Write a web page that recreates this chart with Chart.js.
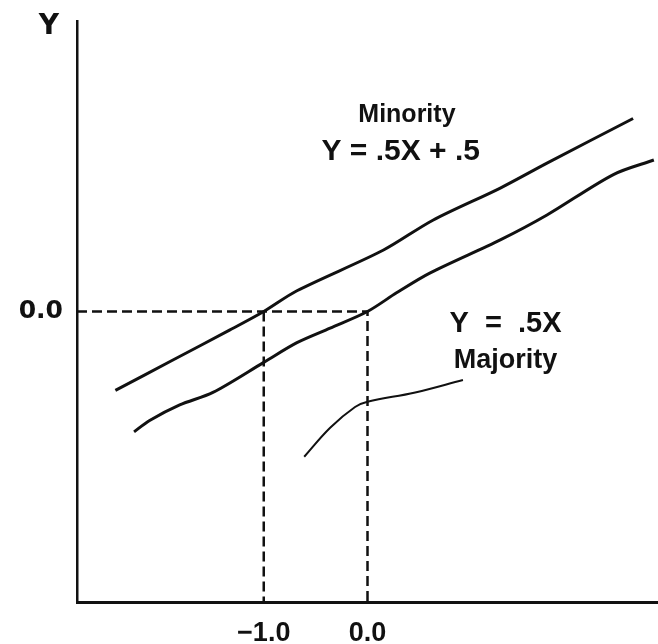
<!DOCTYPE html>
<html>
<head>
<meta charset="utf-8">
<script src="https://cdn.jsdelivr.net/npm/chart.js@4.4.0/dist/chart.umd.min.js"></script>
<style>
  html, body { margin: 0; padding: 0; background: #fff; }
  #wrap { width: 658px; height: 644px; position: relative; }
</style>
</head>
<body>
<div id="wrap"><canvas id="lines"></canvas></div>
<script>
// hand drawn lines (X, Y in data units)
const minorityX = [-2.43, -1.88, -1.33, -1.0, -0.68, 0.15, 0.63, 1.28, 1.73, 2.56];
const minorityY = [-0.76, -0.47, -0.18, 0.0, 0.20, 0.59, 0.88, 1.19, 1.43, 1.86];
const majorityX = [-2.25, -2.10, -1.81, -1.49, -1.0, -0.68, -0.36, 0.0, 0.28, 0.60, 1.28, 1.73, 2.37, 2.76];
const majorityY = [-1.16, -1.05, -0.90, -0.78, -0.49, -0.30, -0.16, 0.0, 0.18, 0.37, 0.69, 0.93, 1.32, 1.46];
const pointerX = [-0.61, -0.36, -0.12, 0.0, 0.46, 0.92];
const pointerY = [-1.40, -1.12, -0.92, -0.87, -0.78, -0.66];

const axisMin = -2.8, axisMax = 2.8;
const xTickValues = [-1, 0];
const xTickLabels = ['\u22121.0', '0.0'];
const yTickValues = [0];
const yTickLabels = ['0.0'];

// text notes: [text, x, y, size, align]
const notes = [
  ['Minority', 0.38, 1.83, 25, 'center'],
  ['Y = .5X + .5', 0.32, 1.46, 30, 'center'],
  ['Y  =  .5X', 0.79, -0.20, 29, 'left'],
  ['Majority', 1.33, -0.54, 27, 'center']
];

const pts = (xs, ys) => xs.map((x, i) => ({ x: x, y: ys[i] }));

const noteText = {
  id: 'noteText',
  afterDatasetsDraw(chart) {
    const ctx = chart.ctx;
    const sx = chart.scales.x, sy = chart.scales.y;
    ctx.save();
    ctx.fillStyle = '#111';
    ctx.textBaseline = 'alphabetic';
    notes.forEach(n => {
      ctx.font = 'bold ' + n[3] + 'px "Liberation Sans"';
      ctx.textAlign = n[4];
      ctx.fillText(n[0], sx.getPixelForValue(n[1]), sy.getPixelForValue(n[2]));
    });
    // axis name at the top of the Y axis
    ctx.font = 'bold 28px "DejaVu Sans"';
    ctx.textAlign = 'center';
    ctx.fillText('Y', sx.left - 28, sy.top + 13);
    ctx.restore();
  }
};

const dash = [10, 5];

new Chart(document.getElementById('lines'), {
  type: 'scatter',
  data: {
    datasets: [
      { data: pts(minorityX, minorityY), showLine: true, borderColor: '#111', borderWidth: 3, tension: 0.3, pointRadius: 0 },
      { data: pts(majorityX, majorityY), showLine: true, borderColor: '#111', borderWidth: 3, tension: 0.3, pointRadius: 0 },
      { data: pts(pointerX, pointerY), showLine: true, borderColor: '#111', borderWidth: 2, tension: 0.4, pointRadius: 0 },
      // dashed guides from the axes to the two crossing points
      { data: [{ x: axisMin, y: 0 }, { x: 0, y: 0 }, { x: 0, y: axisMin }], showLine: true, borderColor: '#111', borderWidth: 2.5, borderDash: dash, pointRadius: 0 },
      { data: [{ x: -1, y: 0 }, { x: -1, y: axisMin }], showLine: true, borderColor: '#111', borderWidth: 2.5, borderDash: dash, pointRadius: 0 }
    ]
  },
  options: {
    responsive: true,
    maintainAspectRatio: false,
    animation: false,
    layout: { padding: { top: 21, right: 0, left: 0, bottom: 0 } },
    plugins: { legend: { display: false }, tooltip: { enabled: false } },
    scales: {
      x: {
        type: 'linear',
        min: axisMin,
        max: axisMax,
        grid: { display: false, drawTicks: false },
        border: { display: true, color: '#111', width: 3 },
        afterBuildTicks: s => { s.ticks = xTickValues.map(v => ({ value: v })); },
        afterFit: s => { s.height = 42; s.paddingLeft = 0; s.paddingRight = 0; },
        ticks: {
          autoSkip: false,
          maxRotation: 0,
          padding: 15,
          color: '#111',
          font: { family: 'Liberation Sans', size: 27, weight: 'bold' },
          callback: v => xTickLabels[xTickValues.indexOf(v)]
        }
      },
      y: {
        type: 'linear',
        min: axisMin,
        max: axisMax,
        grid: { display: false, drawTicks: false },
        border: { display: true, color: '#111', width: 2.5 },
        afterBuildTicks: s => { s.ticks = yTickValues.map(v => ({ value: v })); },
        afterFit: s => { s.width = 77; s.paddingTop = 0; s.paddingBottom = 0; },
        ticks: {
          padding: 14,
          color: '#111',
          font: { family: 'DejaVu Sans', size: 25, weight: 'bold' },
          callback: v => yTickLabels[yTickValues.indexOf(v)]
        }
      }
    }
  },
  plugins: [noteText]
});
</script>
</body>
</html>
